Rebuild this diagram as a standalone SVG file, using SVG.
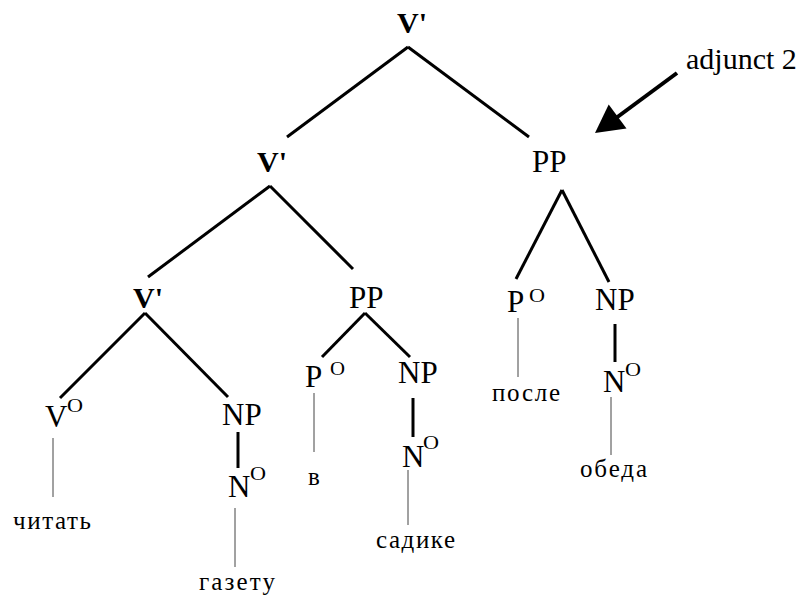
<svg xmlns="http://www.w3.org/2000/svg" width="803" height="597" viewBox="0 0 803 597">
<style>
text{font-family:"Liberation Serif","Times New Roman",serif;fill:#000}
.lbl{font-size:31px}
.b{font-weight:bold;font-size:30px}
.sup{font-size:18px}
.w{font-size:25px}
.adj{font-size:30px}
.thick{stroke:#000;stroke-width:3;fill:none}
.thin{stroke:#444;stroke-width:1;fill:none}
</style>
<rect width="803" height="597" fill="#fff"/>
<g id="connectors">
<line class="thick" x1="408" y1="47" x2="287" y2="137"/>
<line class="thick" x1="408" y1="47" x2="529" y2="137"/>
<line class="thick" x1="270" y1="186" x2="148" y2="277"/>
<line class="thick" x1="270" y1="186" x2="353" y2="269"/>
<line class="thick" x1="562" y1="190" x2="516" y2="279"/>
<line class="thick" x1="562" y1="190" x2="609" y2="282"/>
<line class="thick" x1="145" y1="313" x2="60" y2="398"/>
<line class="thick" x1="145" y1="313" x2="228" y2="397"/>
<line class="thick" x1="365" y1="313" x2="322" y2="357"/>
<line class="thick" x1="365" y1="313" x2="410" y2="357"/>
<line class="thick" x1="238" y1="432" x2="238" y2="468"/>
<line class="thick" x1="413" y1="398" x2="413" y2="437"/>
<line class="thick" x1="615" y1="324" x2="615" y2="362"/>
<line class="thin" x1="53" y1="438" x2="53" y2="497"/>
<line class="thin" x1="235" y1="508" x2="235" y2="567"/>
<line class="thin" x1="314" y1="393" x2="314" y2="452"/>
<line class="thin" x1="408" y1="470" x2="408" y2="525"/>
<line class="thin" x1="518" y1="318" x2="518" y2="377"/>
<line class="thin" x1="611" y1="397" x2="611" y2="455"/>
<line x1="677" y1="73" x2="612" y2="121" stroke="#000" stroke-width="4"/>
<polygon points="595,133 608.7,104.4 626.5,128.6" fill="#000"/>
</g>
<g id="vbar1"><text class="b" x="397" y="33">V'</text></g>
<g id="vbar2"><text class="b" x="257" y="172">V'</text></g>
<g id="pp1"><text class="lbl" x="532" y="172">PP</text></g>
<g id="vbar3"><text class="b" x="133" y="308">V'</text></g>
<g id="pp2"><text class="lbl" x="349" y="308">PP</text></g>
<g id="v0"><text class="lbl" x="45" y="427">V</text><text class="sup" x="67" y="412" textLength="16" lengthAdjust="spacingAndGlyphs">O</text></g>
<g id="np1"><text class="lbl" x="222" y="425">NP</text></g>
<g id="n1"><text class="lbl" x="228" y="497">N</text><text class="sup" x="250" y="480" textLength="16" lengthAdjust="spacingAndGlyphs">O</text></g>
<g id="p1"><text class="lbl" x="305" y="387">P</text><text class="sup" x="330" y="375" textLength="15" lengthAdjust="spacingAndGlyphs">O</text></g>
<g id="np2"><text class="lbl" x="398" y="383">NP</text></g>
<g id="n2"><text class="lbl" x="402" y="467">N</text><text class="sup" x="423" y="449" textLength="16" lengthAdjust="spacingAndGlyphs">O</text></g>
<g id="p2"><text class="lbl" x="507" y="312">P</text><text class="sup" x="529" y="302" textLength="16" lengthAdjust="spacingAndGlyphs">O</text></g>
<g id="np3"><text class="lbl" x="595" y="310">NP</text></g>
<g id="n3"><text class="lbl" x="603" y="392">N</text><text class="sup" x="625" y="376" textLength="16" lengthAdjust="spacingAndGlyphs">O</text></g>
<g id="w1"><text class="w" x="13" y="529" textLength="78" lengthAdjust="spacing">читать</text></g>
<g id="w2"><text class="w" x="199" y="590" textLength="76" lengthAdjust="spacing">газету</text></g>
<g id="w3"><text class="w" x="308" y="485">в</text></g>
<g id="w4"><text class="w" x="376" y="548" textLength="79" lengthAdjust="spacing">садике</text></g>
<g id="w5"><text class="w" x="492" y="401" textLength="68" lengthAdjust="spacing">после</text></g>
<g id="w6"><text class="w" x="580" y="477" textLength="67" lengthAdjust="spacing">обеда</text></g>
<g id="adjunct"><text class="adj" x="686" y="69">adjunct 2</text></g>
</svg>
